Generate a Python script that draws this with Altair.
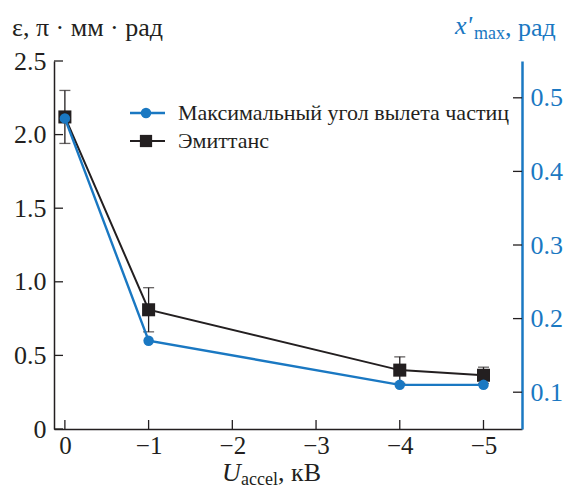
import altair as alt
import pandas as pd

# ---- data ----
U = [0, -1, -4, -5]
emittance = [2.12, 0.81, 0.40, 0.365]
emit_hi = [2.30, 0.96, 0.49, 0.42]
emit_lo = [1.94, 0.66, 0.31, 0.31]
angle = [0.472, 0.17, 0.11, 0.11]

x_ticks = [0, -1, -2, -3, -4, -5]
left_ticks = [0, 0.5, 1.0, 1.5, 2.0, 2.5]
right_ticks = [0.1, 0.2, 0.3, 0.4, 0.5]

legend_labels = ["Максимальный угол вылета частиц", "Эмиттанс"]

BLUE = "#1a78c2"
BLACK = "#231f20"
FONT = "Liberation Serif"
W, H = 468, 368

df = pd.DataFrame({"U": U, "emit": emittance, "hi": emit_hi, "lo": emit_lo, "angle": angle})
xt = pd.DataFrame({"U": x_ticks})
lt = pd.DataFrame({"emit": left_ticks})
rt = pd.DataFrame({"angle": right_ticks})
one = pd.DataFrame({"a": [0]})

xscale = alt.Scale(domain=[-5.46, 0.13], reverse=True, nice=False, zero=False)
lscale = alt.Scale(domain=[0, 2.5], nice=False, zero=False)
rscale = alt.Scale(domain=[0.05, 0.55], nice=False, zero=False)

xaxis = alt.Axis(values=x_ticks, title=None, ticks=False, grid=False,
                 labelExpr="datum.value == 0 ? '0' : '\u2212' + abs(datum.value)",
                 labelFont=FONT, labelFontSize=25, labelColor=BLACK, labelPadding=4,
                 domainColor=BLACK, domainWidth=1.5)
X = alt.X("U:Q", scale=xscale, axis=xaxis)

laxis = alt.Axis(values=left_ticks, title=None, ticks=False, grid=False, orient="left",
                 labelExpr="datum.value == 0 ? '0' : format(datum.value, '.1f')",
                 labelFont=FONT, labelFontSize=26, labelColor=BLACK, labelPadding=8,
                 domainColor=BLACK, domainWidth=1.5)
raxis = alt.Axis(values=right_ticks, title=None, ticks=False, grid=False, orient="right",
                 labelExpr="format(datum.value, '.1f')",
                 labelFont=FONT, labelFontSize=26, labelColor=BLUE, labelPadding=8,
                 domainColor=BLUE, domainWidth=2.5)
YL = lambda f: alt.Y(f, scale=lscale, axis=laxis)
YR = lambda f: alt.Y(f, scale=rscale, axis=raxis)

base = alt.Chart(df)

# left (emittance) group
err = base.mark_rule(color=BLACK, strokeWidth=1.3).encode(
    x=X, y=YL("lo:Q"), y2="hi:Q")
cap_hi = base.mark_tick(color=BLACK, orient="horizontal", size=11, thickness=1.3).encode(
    x=X, y=YL("hi:Q"))
cap_lo = base.mark_tick(color=BLACK, orient="horizontal", size=11, thickness=1.3).encode(
    x=X, y=YL("lo:Q"))
eline = base.mark_line(color=BLACK, strokeWidth=2).encode(x=X, y=YL("emit:Q"))
epts = base.mark_point(shape="square", filled=True, opacity=1, color=BLACK, size=170).encode(
    x=X, y=YL("emit:Q"))
ltick = alt.Chart(lt).mark_rule(color=BLACK, strokeWidth=1.3).encode(
    y=YL("emit:Q"), x=alt.value(0), x2=alt.value(9))
xtick = alt.Chart(xt).mark_rule(color=BLACK, strokeWidth=1.3).encode(
    x=X, y=alt.value(H), y2=alt.value(H - 9))
left = alt.layer(err, cap_hi, cap_lo, eline, epts, ltick, xtick)

# right (angle) group
aline = base.mark_line(color=BLUE, strokeWidth=2.4).encode(x=X, y=YR("angle:Q"))
apts = base.mark_point(shape="circle", filled=True, opacity=1, color=BLUE, size=110).encode(
    x=X, y=YR("angle:Q"))
rtick = alt.Chart(rt).mark_rule(color=BLACK, strokeWidth=1.3).encode(
    y=YR("angle:Q"), x=alt.value(W - 9), x2=alt.value(W))
right = alt.layer(aline, apts, rtick)


def txt(s, x, y, size=26, color=BLACK, italic=False):
    kw = dict(text=s, font=FONT, fontSize=size, color=color, align="left", baseline="middle")
    if italic:
        kw["fontStyle"] = "italic"
    return alt.Chart(one).mark_text(**kw).encode(x=alt.value(x), y=alt.value(y))

# legend
leg = [
    alt.Chart(one).mark_rule(color=BLUE, strokeWidth=2.4).encode(
        x=alt.value(76), x2=alt.value(111), y=alt.value(52)),
    alt.Chart(one).mark_point(shape="circle", filled=True, opacity=1, color=BLUE, size=110).encode(
        x=alt.value(92), y=alt.value(52)),
    txt(legend_labels[0], 124, 52, size=22),
    alt.Chart(one).mark_rule(color=BLACK, strokeWidth=2).encode(
        x=alt.value(76), x2=alt.value(111), y=alt.value(80)),
    alt.Chart(one).mark_point(shape="square", filled=True, opacity=1, color=BLACK, size=150).encode(
        x=alt.value(92), y=alt.value(80)),
    txt(legend_labels[1], 124, 80, size=22),
]

titles = [
    txt("ε, π · мм · рад", -42, -33),
    txt("x'", 401, -35, color=BLUE, italic=True),
    txt("max", 420, -27, size=18, color=BLUE),
    txt(", рад", 451, -33, color=BLUE),
    txt("U", 168, 412, italic=True),
    txt("accel", 187, 419, size=18),
    txt(", кВ", 224, 412),
]

chart = alt.layer(left, right, *leg, *titles).resolve_scale(y="independent").properties(
    width=W, height=H, background="white",
    autosize=alt.AutoSizeParams(type="none"),
    padding={"left": 54, "top": 61, "right": 44, "bottom": 60},
).configure(font=FONT, view=alt.ViewConfig(stroke=None))

chart.save("out.html", embed_options={"renderer": "svg", "actions": False})
